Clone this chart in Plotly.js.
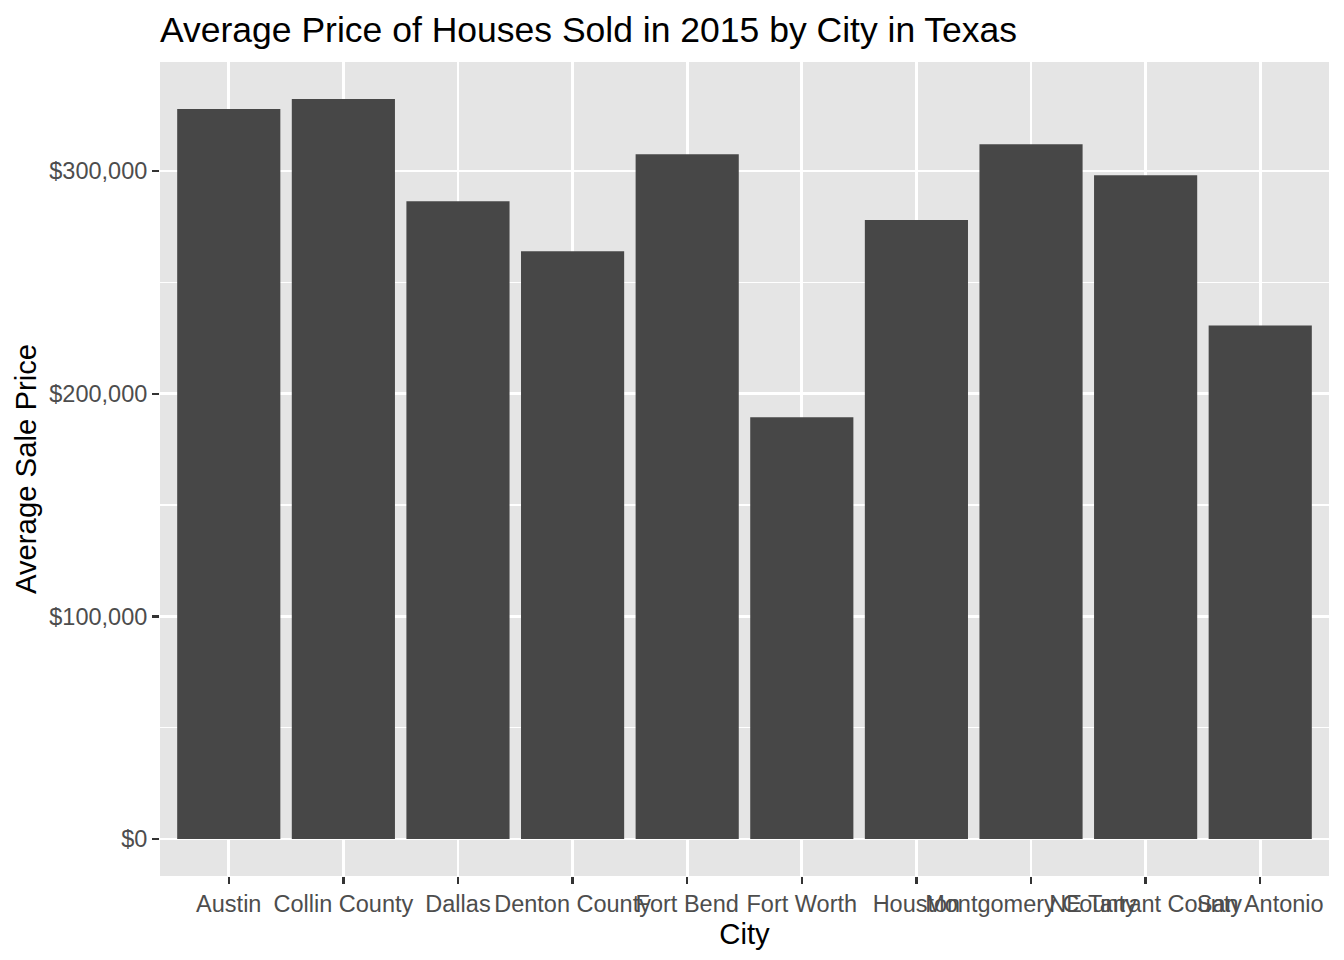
<!DOCTYPE html>
<html>
<head>
<meta charset="utf-8">
<script src="https://cdn.plot.ly/plotly-3.0.1.min.js"></script>
<style>
  html, body { margin: 0; padding: 0; background: #ffffff; }
  #chart { width: 1344px; height: 960px; }
</style>
</head>
<body>
<div id="chart"></div>
<script>
const cities = ["Austin", "Collin County", "Dallas", "Denton County", "Fort Bend",
                "Fort Worth", "Houston", "Montgomery County", "NE Tarrant County", "San Antonio"];
const avgPrice = [327900, 332400, 286500, 264000, 307600, 189400, 278000, 312100, 298200, 230700];
const yTickVals = [0, 100000, 200000, 300000];
const yTickText = ["$0", "$100,000", "$200,000", "$300,000"];
const yMinorVals = [50000, 150000, 250000];

const FONT = "Liberation Sans, Arial, Helvetica, sans-serif";
const maxVal = Math.max(...avgPrice);

const trace = {
  type: "bar",
  x: cities,
  y: avgPrice,
  width: 0.9,
  marker: { color: "#474747", line: { width: 0 } },
  hoverinfo: "x+y"
};

const layout = {
  width: 1344,
  height: 960,
  margin: { l: 160, r: 15, t: 62, b: 84 },
  paper_bgcolor: "#ffffff",
  plot_bgcolor: "#E5E5E5",
  showlegend: false,
  bargap: 0.1,
  font: { family: FONT, color: "#4D4D4D" },
  title: {
    text: "Average Price of Houses Sold in 2015 by City in Texas",
    font: { family: FONT, size: 35.5, color: "#000000" },
    x: 160 / 1344,
    xref: "container",
    xanchor: "left",
    y: 1 - 30 / 960,
    yref: "container",
    yanchor: "middle"
  },
  xaxis: {
    type: "category",
    range: [-0.6, cities.length - 0.4],
    tickmode: "array",
    tickvals: cities,
    ticktext: cities,
    tickangle: 0,
    ticks: "outside",
    ticklen: 7,
    tickwidth: 2.4,
    tickcolor: "#333333",
    tickfont: { family: FONT, size: 23.5, color: "#4D4D4D" },
    showgrid: true,
    gridcolor: "#ffffff",
    gridwidth: 2.6,
    zeroline: false,
    showline: false,
    automargin: false,
    title: {
      text: "City",
      font: { family: FONT, size: 29.3, color: "#000000" },
      standoff: 4
    }
  },
  yaxis: {
    range: [-0.05 * maxVal, 1.05 * maxVal],
    tickmode: "array",
    tickvals: yTickVals,
    ticktext: yTickText,
    ticks: "outside",
    ticklen: 7,
    tickwidth: 2.4,
    tickcolor: "#333333",
    tickfont: { family: FONT, size: 23.5, color: "#4D4D4D" },
    showgrid: true,
    gridcolor: "#ffffff",
    gridwidth: 2.6,
    minor: {
      tickmode: "array",
      tickvals: yMinorVals,
      showgrid: true,
      gridcolor: "#ffffff",
      gridwidth: 1.3,
      ticks: ""
    },
    zeroline: false,
    showline: false,
    automargin: false,
    title: {
      text: "Average Sale Price",
      font: { family: FONT, size: 29.3, color: "#000000" },
      standoff: 4
    }
  }
};

Plotly.newPlot("chart", [trace], layout, { displayModeBar: false, staticPlot: true });
</script>
</body>
</html>
